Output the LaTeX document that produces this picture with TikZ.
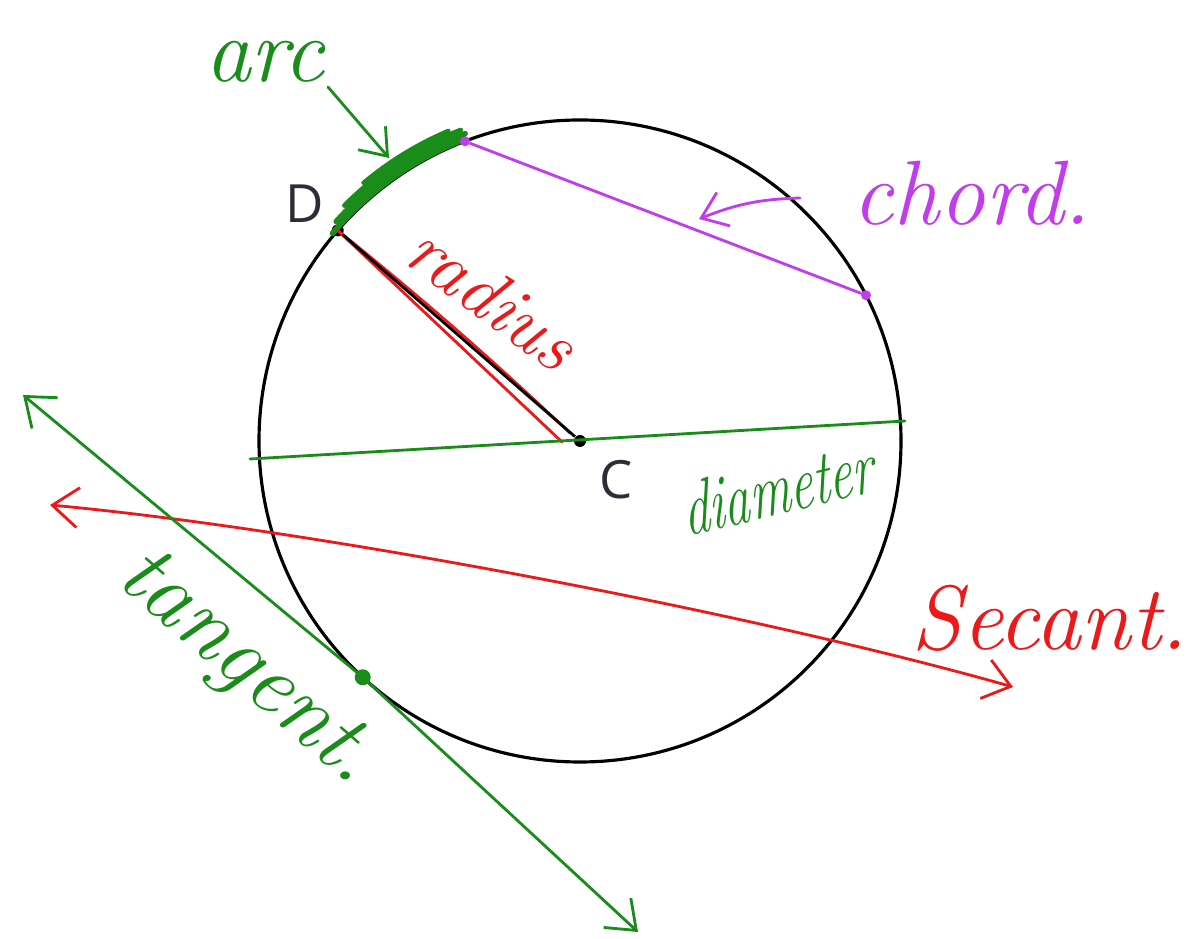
\documentclass[tikz,border=0pt]{standalone}
\usepackage{fontspec}
\newfontfamily\pointfont{Open Sans}
\usetikzlibrary{arrows.meta,calc}
\definecolor{pengreen}{RGB}{25,140,25}
\definecolor{penred}{RGB}{235,25,25}
\definecolor{penpurple}{RGB}{195,60,235}
\definecolor{inkgray}{RGB}{45,45,55}

\begin{document}
\begin{tikzpicture}[
  pen/.style={line width=0.8pt,line cap=round,line join=round},
  both/.style={pen,{Straight Barb[length=2.6mm,width=4mm]}-{Straight Barb[length=2.6mm,width=4mm]}},
  ptr/.style={pen,-{Straight Barb[length=2.4mm,width=3.6mm]}},
  hand/.style={font=\fontsize{26}{30}\selectfont\itshape},
  dot/.style={circle,fill,inner sep=0pt,minimum size=1.2mm},
  pname/.style={font=\pointfont\fontsize{15}{18}\selectfont,text=inkgray}]
\useasboundingbox (0,0) rectangle (11.95,-9.39);
% circle and its points
\coordinate (c0) at (5.80,-4.41);
\draw[line width=0.9pt] (c0) circle[radius=3.21];
\node[dot] (C) at (c0) {};
\node[dot] (D) at ($(c0)+(139:3.21)$) {};
\node[pname] (dlab) at (3.05,-2.04) {D};
\node[pname] (clab) at (6.16,-4.80) {C};
% arc
\draw[pen,pengreen,line width=1.6pt] ($(c0)+(140:3.23)$) arc[start angle=140,end angle=111,radius=3.23];
\draw[pen,pengreen,line width=1.6pt] ($(c0)+(138:3.28)$) arc[start angle=138,end angle=110.5,radius=3.28];
\draw[pen,pengreen,line width=1.4pt] ($(c0)+(135:3.33)$) arc[start angle=135,end angle=111,radius=3.33];
\draw[pen,pengreen,line width=1.2pt] ($(c0)+(130:3.37)$) arc[start angle=130,end angle=113,radius=3.37];
\node[hand,text=pengreen] (arclab) at (2.65,-0.62) {arc};
\coordinate (arcfrom) at (3.28,-0.87);
\coordinate (arcto) at (3.89,-1.58);
\draw[ptr,pengreen] (arcfrom) -- (arcto);
% chord
\node[dot,penpurple,minimum size=1mm] (P) at ($(c0)+(111:3.21)$) {};
\node[dot,penpurple,minimum size=1mm] (Q) at ($(c0)+(27:3.21)$) {};
\draw[pen,penpurple] (P) -- (Q);
\node[hand,text=penpurple] (chordlab) at (9.72,-1.93) {chord.};
\coordinate (chfrom) at (8.00,-1.98);
\coordinate (chto) at (6.99,-2.19);
\draw[ptr,penpurple] (chfrom) to[bend right=10] (chto);
% radius
\draw[pen,penred] (D.center) to[bend left=2] ($(c0)+(-0.10,0.08)$) (D.center) -- ($(c0)+(-0.18,-0.01)$);
\draw[line width=0.8pt] (D) -- (C);
\node[hand,text=penred,font=\fontsize{21}{25}\selectfont\itshape,rotate=-36.5] (radlab) at (4.93,-2.97) {radius};
% diameter
\coordinate (dmL) at (2.50,-4.59);
\coordinate (dmR) at (9.05,-4.21);
\draw[pen,pengreen] (dmL) -- (dmR);
\node[hand,text=pengreen,font=\fontsize{22}{26}\selectfont\itshape,xscale=0.66,rotate=9] (diamlab) at (7.78,-4.88) {diameter};
% secant
\coordinate (seL) at (0.50,-5.05);
\coordinate (seR) at (10.13,-6.87);
\draw[both,penred] (seL) .. controls (3.2,-5.3) and (7.6,-6.15) .. (seR);
\node[hand,text=penred] (seclab) at (10.50,-6.18) {Secant.};
% tangent
\coordinate (taL) at (0.23,-3.95);
\coordinate (taR) at (6.38,-9.32);
\node[dot,pengreen,minimum size=1.6mm] (T) at ($(c0)+(227.4:3.21)$) {};
\draw[both,pengreen] (taL) -- (T.center) -- (taR);
\node[hand,text=pengreen,rotate=-41] (tanlab) at (2.46,-6.70) {tangent.};
\end{tikzpicture}
\end{document}
